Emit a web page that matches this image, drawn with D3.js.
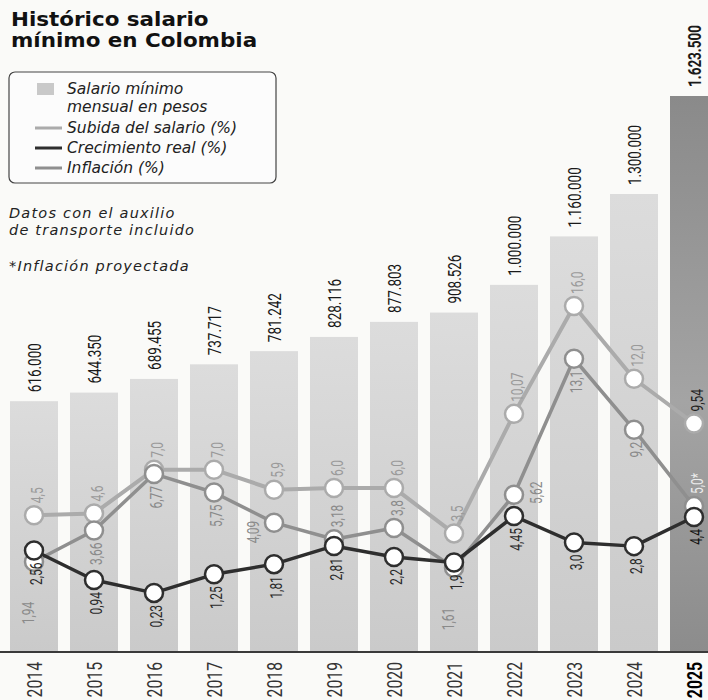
<!DOCTYPE html>
<html>
<head>
<meta charset="utf-8">
<script src="https://cdn.jsdelivr.net/npm/d3@7"></script>
<style>
  body { margin: 0; background: #fafaf8; }
  svg { display: block; }
</style>
</head>
<body>
<svg id="salario" width="708" height="700"></svg>
<script>
//// data
var years = ["2014", "2015", "2016", "2017", "2018", "2019", "2020", "2021", "2022", "2023", "2024", "2025"];
var salario = [616000, 644350, 689455, 737717, 781242, 828116, 877803, 908526, 1000000, 1160000, 1300000, 1623500];
var subida = [4.5, 4.6, 7.0, 7.0, 5.9, 6.0, 6.0, 3.5, 10.07, 16.0, 12.0, 9.54];
var inflacion = [1.94, 3.66, 6.77, 5.75, 4.09, 3.18, 3.8, 1.61, 5.62, 13.1, 9.2, 5.0];
var real = [2.56, 0.94, 0.23, 1.25, 1.81, 2.81, 2.2, 1.9, 4.45, 3.0, 2.8, 4.4];
var proyectado = "2025";

// where each inflation label sits next to its point
var inflPlace = ["far", "below", "below", "below", "left", "above", "above", "far", "right", "below", "below", "above"];

//// define parameters
var svg = d3.select("svg#salario");
var width = +svg.attr("width"),
    height = +svg.attr("height");
var baseY = 652;

var x = d3.scaleBand().domain(years).range([10, 718]).paddingInner(0.2).paddingOuter(0);
var yBar = d3.scaleLinear().domain([-212000, 1623500]).range([baseY, 96]);
var yLine = d3.scaleLinear().domain([-3.02, 16]).range([baseY, 306]);

var numFont = "Roboto, 'Liberation Sans', sans-serif";
var textFont = "'DejaVu Sans', Verdana, sans-serif";
var squeeze = 0.75;

function fmtPct(v) {
  var tenths = v * 10;
  var s = Math.abs(tenths - Math.round(tenths)) < 1e-9 ? v.toFixed(1) : v.toFixed(2);
  return s.replace(".", ",");
}
function fmtPesos(v) {
  return d3.format(",")(v).replace(/,/g, ".");
}
function cx(d) { return x(d.year) + x.bandwidth() / 2; }

var defs = svg.append("defs");
var g1 = defs.append("linearGradient").attr("id", "barGrad").attr("x1", 0).attr("y1", 0).attr("x2", 0).attr("y2", 1);
g1.append("stop").attr("offset", "0%").attr("stop-color", "#dcdcdc");
g1.append("stop").attr("offset", "100%").attr("stop-color", "#cacaca");
var g2 = defs.append("linearGradient").attr("id", "lastGrad").attr("x1", 0).attr("y1", 0).attr("x2", 0).attr("y2", 1);
g2.append("stop").attr("offset", "0%").attr("stop-color", "#8a8a8a");
g2.append("stop").attr("offset", "55%").attr("stop-color", "#a4a4a4");
g2.append("stop").attr("offset", "100%").attr("stop-color", "#8c8c8c");

var barData = years.map(function(y, i) { return {year: y, value: salario[i]}; });

// bars
svg.selectAll("rect.bar")
   .data(barData)
   .enter().append("rect")
   .attr("class", "bar")
   .attr("x", function(d) { return x(d.year); })
   .attr("y", function(d) { return yBar(d.value); })
   .attr("width", x.bandwidth())
   .attr("height", function(d) { return baseY - yBar(d.value); })
   .attr("fill", function(d) { return d.year === proyectado ? "url(#lastGrad)" : "url(#barGrad)"; });

// bar values
svg.selectAll("text.barval")
   .data(barData)
   .enter().append("text")
   .attr("class", "barval")
   .attr("transform", function(d) {
     return "translate(" + (cx(d) + 1) + "," + (yBar(d.value) - 9) + ") rotate(-90) scale(" + squeeze + ",1)";
   })
   .attr("dominant-baseline", "central")
   .attr("font-family", numFont)
   .attr("font-size", 18)
   .attr("font-weight", function(d) { return d.year === proyectado ? 700 : 400; })
   .attr("fill", "#1a1a1a")
   .text(function(d) { return fmtPesos(d.value); });

// baseline
svg.append("line")
   .attr("x1", 0).attr("x2", width)
   .attr("y1", baseY).attr("y2", baseY)
   .attr("stroke", "#3a3a3a").attr("stroke-width", 2);

// years
svg.selectAll("text.year")
   .data(barData)
   .enter().append("text")
   .attr("class", "year")
   .attr("transform", function(d) {
     return "translate(" + (cx(d) + 1) + "," + (baseY + 10) + ") rotate(-90) scale(" + squeeze + ",1)";
   })
   .attr("text-anchor", "end")
   .attr("dominant-baseline", "central")
   .attr("font-family", numFont)
   .attr("font-size", 21)
   .attr("font-weight", function(d) { return d.year === proyectado ? 700 : 400; })
   .attr("fill", function(d) { return d.year === proyectado ? "#000" : "#333"; })
   .text(function(d) { return d.year; });

// lines
var series = [
  {name: "subida", values: subida, color: "#ababab", label: "#9a9a9a", last: "#222", width: 4},
  {name: "inflacion", values: inflacion, color: "#8f8f8f", label: "#8a8a8a", last: "#ececec", width: 3.5},
  {name: "real", values: real, color: "#2e2e2e", label: "#2a2a2a", last: "#111", width: 3.5}
];
series.forEach(function(s) {
  s.points = years.map(function(y, i) {
    var place = s.name === "subida" ? "above" : s.name === "real" ? "below" : inflPlace[i];
    return {year: y, value: s.values[i], place: place};
  });
});

var line = d3.line()
  .x(function(d) { return cx(d); })
  .y(function(d) { return yLine(d.value); });

series.forEach(function(s) {
  svg.append("path")
     .datum(s.points)
     .attr("d", line)
     .attr("fill", "none")
     .attr("stroke", s.color)
     .attr("stroke-width", s.width)
     .attr("stroke-linejoin", "round");
});

series.forEach(function(s) {
  svg.selectAll("circle." + s.name)
     .data(s.points)
     .enter().append("circle")
     .attr("class", s.name)
     .attr("cx", cx)
     .attr("cy", function(d) { return yLine(d.value); })
     .attr("r", 9)
     .attr("fill", "#fff")
     .attr("stroke", s.color)
     .attr("stroke-width", 2.5);
});

// point labels
function labelPos(d) {
  var px = cx(d), py = yLine(d.value);
  if (d.place === "above") return {x: px + 3, y: py - 12, anchor: "start"};
  if (d.place === "below") return {x: px + 2, y: py + 12, anchor: "end"};
  if (d.place === "far") return {x: px - 6, y: py + 40, anchor: "end"};
  if (d.place === "left") return {x: px - 21, y: py - 2, anchor: "end"};
  return {x: px + 22, y: py - 2, anchor: "middle"};
}

series.forEach(function(s) {
  svg.selectAll("text.lab-" + s.name)
     .data(s.points)
     .enter().append("text")
     .attr("class", "lab-" + s.name)
     .attr("transform", function(d) {
       var p = labelPos(d);
       return "translate(" + p.x + "," + p.y + ") rotate(-90) scale(" + squeeze + ",1)";
     })
     .attr("text-anchor", function(d) { return labelPos(d).anchor; })
     .attr("dominant-baseline", "central")
     .attr("font-family", numFont)
     .attr("font-size", 16)
     .attr("fill", function(d) { return d.year === proyectado ? s.last : s.label; })
     .text(function(d) {
       var t = fmtPct(d.value);
       if (s.name === "inflacion" && d.year === proyectado) t += "*";
       return t;
     });
});

// title
svg.selectAll("text.title")
   .data(["Histórico salario", "mínimo en Colombia"])
   .enter().append("text")
   .attr("class", "title")
   .attr("transform", function(d, i) { return "translate(11," + (26 + i * 21) + ") scale(1.1,1)"; })
   .attr("font-family", textFont).attr("font-weight", 700).attr("font-size", 19.5)
   .attr("fill", "#111")
   .text(function(d) { return d; });

// legend
var legend = svg.append("g");
legend.append("rect")
      .attr("x", 9).attr("y", 72).attr("width", 267).attr("height", 111).attr("rx", 6)
      .attr("fill", "#fcfcfc").attr("stroke", "#444").attr("stroke-width", 1.2);
legend.append("rect")
      .attr("x", 37).attr("y", 83).attr("width", 17).attr("height", 12)
      .attr("fill", "#c9c9c9");

var legendRows = [
  {text: "Salario mínimo", y: 94},
  {text: "mensual en pesos", y: 112},
  {text: "Subida del salario (%)", y: 133, color: series[0].color},
  {text: "Crecimiento real (%)", y: 153, color: series[2].color},
  {text: "Inflación (%)", y: 173, color: series[1].color}
];
legend.selectAll("line.sw")
      .data(legendRows.filter(function(d) { return d.color; }))
      .enter().append("line")
      .attr("x1", 35).attr("x2", 62)
      .attr("y1", function(d) { return d.y - 5; })
      .attr("y2", function(d) { return d.y - 5; })
      .attr("stroke", function(d) { return d.color; })
      .attr("stroke-width", 3);
legend.selectAll("text")
      .data(legendRows)
      .enter().append("text")
      .attr("x", 67)
      .attr("y", function(d) { return d.y; })
      .attr("font-family", textFont).attr("font-style", "italic").attr("font-size", 15.5)
      .attr("fill", "#222")
      .text(function(d) { return d.text; });

// notes
var notes = [
  {text: "Datos con el auxilio", y: 218},
  {text: "de transporte incluido", y: 235},
  {text: "*Inflación proyectada", y: 271}
];
svg.selectAll("text.note")
   .data(notes)
   .enter().append("text")
   .attr("class", "note")
   .attr("x", 9)
   .attr("y", function(d) { return d.y; })
   .attr("font-family", textFont).attr("font-style", "italic").attr("font-size", 14.5)
   .attr("letter-spacing", 1.2)
   .attr("fill", "#222")
   .text(function(d) { return d.text; });
</script>
</body>
</html>
